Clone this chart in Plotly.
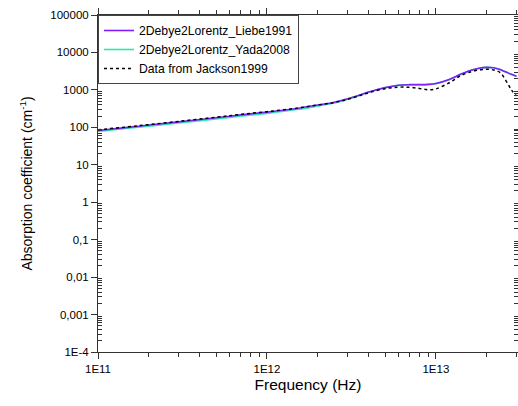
import plotly.graph_objects as go

freq = [1e11, 1.5e11, 2e11, 3e11, 5e11, 7e11, 1e12, 1.5e12, 2e12, 2.5e12, 3e12,
        3.5e12, 4e12, 5e12, 6e12, 7e12, 8e12, 9e12, 1e13, 1.2e13, 1.4e13, 1.6e13,
        1.8e13, 2e13, 2.2e13, 2.4e13, 2.6e13, 2.8e13, 3e13]

liebe = [82, 100, 115, 140, 180, 215, 255, 320, 395, 470, 580,
         720, 880, 1150, 1330, 1380, 1380, 1400, 1480, 1900, 2600, 3300,
         3800, 4000, 3900, 3500, 3000, 2600, 2300]

yada = [78, 95, 108, 131, 168, 200, 236, 298, 370, 445, 560,
        705, 870, 1140, 1320, 1370, 1370, 1390, 1470, 1890, 2590, 3290,
        3790, 3990, 3890, 3490, 2990, 2590, 2290]

jackson = [86, 103, 118, 144, 186, 222, 262, 325, 395, 460, 560,
           690, 840, 1080, 1180, 1170, 1090, 1010, 1060, 1550, 2400, 3000,
           3400, 3550, 3400, 2900, 1750, 1000, 690]

ytick_vals = [1e-4, 1e-3, 1e-2, 1e-1, 1, 10, 100, 1000, 10000, 100000]
ytick_text = ["1E-4", "0,001", "0,01", "0,1", "1", "10", "100", "1000", "10000", "100000"]
xtick_vals = [1e11, 1e12, 1e13]
xtick_text = ["1E11", "1E12", "1E13"]

x_minor = [m * 10 ** e for e in range(11, 14) for m in range(2, 10)]
y_minor = [m * 10.0 ** e for e in range(-4, 5) for m in range(2, 10)]

fig = go.Figure()
fig.add_trace(go.Scatter(x=freq, y=yada, mode="lines", name="2Debye2Lorentz_Yada2008",
                         legendrank=2,
                         line=dict(color="#2EE8B0", width=1.6, shape="spline")))
fig.add_trace(go.Scatter(x=freq, y=liebe, mode="lines", name="2Debye2Lorentz_Liebe1991",
                         legendrank=1,
                         line=dict(color="#7F1FFF", width=1.6, shape="spline")))
fig.add_trace(go.Scatter(x=freq, y=jackson, mode="lines", name="Data from Jackson1999",
                         legendrank=3,
                         line=dict(color="black", width=1.5, dash="dot", shape="spline")))

fig.update_layout(
    width=518, height=406,
    margin=dict(l=98, r=0, t=15, b=54),
    paper_bgcolor="white", plot_bgcolor="white",
    font=dict(family="Liberation Sans, Arial, sans-serif", size=11, color="black"),
    showlegend=True,
    legend=dict(x=0.0, y=1.0, xanchor="left", yanchor="top", traceorder="normal",
                bgcolor="white", bordercolor="#444", borderwidth=1,
                font=dict(size=12.2), itemwidth=30),
)
fig.update_xaxes(type="log", range=[11, 13.486], tickvals=xtick_vals, ticktext=xtick_text,
                 automargin=False,
                 ticks="outside", ticklen=6, tickwidth=1, tickcolor="#333",
                 showline=True, linecolor="#333", linewidth=1, mirror="ticks",
                 showgrid=False, zeroline=False,
                 minor=dict(tickvals=x_minor, ticks="outside", ticklen=4, tickcolor="#333", showgrid=False),
                 title=dict(text="Frequency (Hz)", font=dict(size=15.5), standoff=5),
                 tickfont=dict(size=11.5))
fig.update_yaxes(type="log", range=[-4, 5], tickvals=ytick_vals, ticktext=ytick_text,
                 automargin=False,
                 ticks="outside", ticklen=6, tickwidth=1, tickcolor="#333",
                 showline=True, linecolor="#333", linewidth=1, mirror="ticks",
                 showgrid=False, zeroline=False,
                 minor=dict(tickvals=y_minor, ticks="inside", ticklen=4, tickcolor="#333", showgrid=False),
                 title=dict(text="Absorption coefficient (cm<sup>-1</sup>)", font=dict(size=14), standoff=14),
                 tickfont=dict(size=11.5))

fig.write_html("out.html", config={"displayModeBar": False},
               post_script="document.body.style.margin='0';document.body.style.padding='0';")
